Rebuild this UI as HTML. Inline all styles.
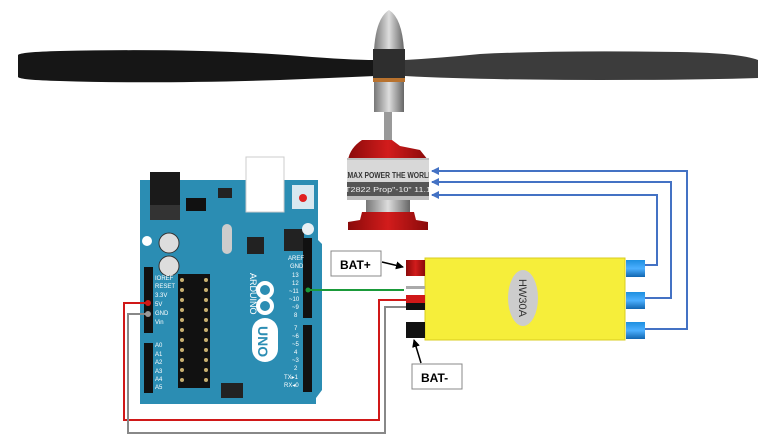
<!DOCTYPE html>
<html><head><meta charset="utf-8"><style>
html,body{margin:0;padding:0;background:#fff;}
svg{display:block;}
text{font-family:"Liberation Sans",sans-serif;}
</style></head><body>
<svg width="770" height="444" viewBox="0 0 770 444" xmlns="http://www.w3.org/2000/svg">
<defs>
<linearGradient id="g1" x1="0" x2="1"><stop offset="0" stop-color="#777"/><stop offset="0.5" stop-color="#ddd"/><stop offset="1" stop-color="#666"/></linearGradient>
<linearGradient id="gr" x1="0" x2="1"><stop offset="0" stop-color="#8a0a0a"/><stop offset="0.5" stop-color="#d21c1c"/><stop offset="1" stop-color="#8a0a0a"/></linearGradient>
<linearGradient id="gb" x1="0" x2="0" y1="0" y2="1"><stop offset="0" stop-color="#1d8fe0"/><stop offset="0.5" stop-color="#4cb0ff"/><stop offset="1" stop-color="#1166b0"/></linearGradient>
<marker id="ar" markerWidth="8" markerHeight="8" refX="7" refY="4" orient="auto" markerUnits="userSpaceOnUse"><path d="M0,0 L8,4 L0,8 Z" fill="#4472c4"/></marker>
<marker id="ak" markerWidth="8" markerHeight="8" refX="7" refY="4" orient="auto" markerUnits="userSpaceOnUse"><path d="M0,0 L8,4 L0,8 Z" fill="#000"/></marker>
<clipPath id="mc"><rect x="347" y="158" width="82" height="42"/></clipPath>
</defs>
<!-- propeller -->
<path d="M18,55 Q20,52 60,51 Q200,48 300,56 Q350,60 375,60 L375,76 Q330,78 280,80 Q150,84 60,81 Q20,80 18,77 Z" fill="#161616"/>
<path d="M405,60 Q440,58 480,54 Q560,50 680,52 Q740,53 758,60 L758,78 Q700,80 600,80 Q480,80 405,76 Z" fill="#3c3c3c"/>
<!-- spinner/hub -->
<path d="M374,50 Q376,18 389,10 Q402,18 404,50 Z" fill="url(#g1)"/>
<rect x="373" y="49" width="32" height="30" fill="#2e2e2e"/>
<rect x="373" y="78" width="32" height="4" fill="#b8722e"/>
<rect x="374" y="82" width="30" height="30" fill="url(#g1)"/>
<rect x="384" y="112" width="8" height="28" fill="#999"/>
<!-- motor -->
<path d="M362,140 L392,140 L400,146 L420,150 L428,160 L348,160 Q350,148 362,140 Z" fill="url(#gr)"/>
<g clip-path="url(#mc)">
<rect x="347" y="158" width="82" height="42" fill="#bdbdbd"/>
<rect x="347" y="160" width="82" height="22" fill="#d8d8d8"/>
<rect x="347" y="182" width="82" height="14" fill="#555"/>
<text x="343" y="178" font-size="8" font-weight="bold" fill="#333" textLength="90" lengthAdjust="spacingAndGlyphs">EMAX POWER THE WORLD</text>
<text x="345" y="192" font-size="7" fill="#eee" textLength="86" lengthAdjust="spacingAndGlyphs">T2822   Prop"-10"   11.1</text>
</g>
<rect x="366" y="200" width="44" height="14" fill="url(#g1)"/>
<path d="M362,212 L414,212 L416,220 L428,222 L428,230 L348,230 L348,222 L360,220 Z" fill="url(#gr)"/>
<!-- blue wires -->
<g fill="none" stroke="#4472c4" stroke-width="2">
<path d="M645,329 L687,329 L687,171 L432,171" marker-end="url(#ar)"/>
<path d="M645,298 L671,298 L671,182 L432,182" marker-end="url(#ar)"/>
<path d="M645,265 L657,265 L657,195 L432,195" marker-end="url(#ar)"/>
</g>
<!-- ESC -->
<rect x="425" y="258" width="200" height="82" fill="#f6ee3a" stroke="#d8cc20"/>
<ellipse cx="523" cy="298" rx="15" ry="28" fill="#ccc"/>
<text x="0" y="0" font-size="11" fill="#333" transform="translate(519,298) rotate(90)" text-anchor="middle">HW30A</text>
<rect x="406" y="260" width="19" height="16" fill="url(#gr)"/>
<rect x="406" y="286" width="19" height="3" fill="#aaa"/>
<rect x="406" y="295" width="19" height="8" fill="#d01818"/>
<rect x="406" y="303" width="19" height="7" fill="#111"/>
<rect x="406" y="322" width="19" height="16" fill="#111"/>
<rect x="626" y="260" width="19" height="17" fill="url(#gb)"/>
<rect x="626" y="292" width="19" height="17" fill="url(#gb)"/>
<rect x="626" y="322" width="19" height="17" fill="url(#gb)"/>
<!-- labels -->
<rect x="331" y="251" width="50" height="25" fill="#fff" stroke="#888"/>
<text x="340" y="269" font-size="12" font-weight="bold">BAT+</text>
<line x1="382" y1="262" x2="403" y2="267" stroke="#000" stroke-width="1.5" marker-end="url(#ak)"/>
<rect x="412" y="364" width="50" height="25" fill="#fff" stroke="#888"/>
<text x="421" y="382" font-size="12" font-weight="bold">BAT-</text>
<line x1="421" y1="363" x2="414" y2="340" stroke="#000" stroke-width="1.5" marker-end="url(#ak)"/>
<!-- arduino board -->
<path d="M140,180 L318,180 L318,240 L322,244 L322,390 L316,398 L316,404 L140,404 Z" fill="#2b8db3"/>
<rect x="246" y="157" width="38" height="55" fill="#fff" stroke="#ccc"/>
<rect x="150" y="172" width="30" height="48" fill="#1a1a1a"/>
<rect x="150" y="205" width="30" height="15" fill="#333"/>
<rect x="292" y="185" width="22" height="24" fill="#d8e8f0"/>
<circle cx="303" cy="198" r="4" fill="#e02020"/>
<rect x="186" y="198" width="20" height="13" fill="#111"/>
<rect x="218" y="188" width="14" height="10" fill="#222"/>
<circle cx="169" cy="243" r="10" fill="#ddd" stroke="#333"/>
<circle cx="169" cy="266" r="10" fill="#ddd" stroke="#333"/>
<rect x="222" y="224" width="10" height="30" rx="5" fill="#ccc"/>
<rect x="247" y="237" width="17" height="17" fill="#222"/>
<rect x="284" y="229" width="20" height="22" fill="#222"/>
<circle cx="308" cy="229" r="6" fill="#e8f0f4"/>
<circle cx="147" cy="241" r="5" fill="#fff"/>
<!-- headers -->
<rect x="144" y="267" width="9" height="66" fill="#111"/>
<rect x="144" y="343" width="9" height="50" fill="#111"/>
<rect x="303" y="238" width="9" height="80" fill="#111"/>
<rect x="303" y="325" width="9" height="67" fill="#111"/>
<rect x="221" y="383" width="22" height="15" fill="#222"/>
<!-- chip -->
<rect x="178" y="274" width="32" height="114" fill="#111"/>
<g fill="#c8b070">
<circle cx="182" cy="280" r="2"/><circle cx="206" cy="280" r="2"/>
<circle cx="182" cy="290" r="2"/><circle cx="206" cy="290" r="2"/>
<circle cx="182" cy="300" r="2"/><circle cx="206" cy="300" r="2"/>
<circle cx="182" cy="310" r="2"/><circle cx="206" cy="310" r="2"/>
<circle cx="182" cy="320" r="2"/><circle cx="206" cy="320" r="2"/>
<circle cx="182" cy="330" r="2"/><circle cx="206" cy="330" r="2"/>
<circle cx="182" cy="340" r="2"/><circle cx="206" cy="340" r="2"/>
<circle cx="182" cy="350" r="2"/><circle cx="206" cy="350" r="2"/>
<circle cx="182" cy="360" r="2"/><circle cx="206" cy="360" r="2"/>
<circle cx="182" cy="370" r="2"/><circle cx="206" cy="370" r="2"/>
<circle cx="182" cy="380" r="2"/><circle cx="206" cy="380" r="2"/>
</g>
<g font-size="6" fill="#fff">
<text x="155" y="280">IOREF</text><text x="155" y="288">RESET</text><text x="155" y="297">3.3V</text>
<text x="155" y="306">5V</text><text x="155" y="315">GND</text><text x="155" y="324">Vin</text>
<text x="155" y="347">A0</text><text x="155" y="356">A1</text><text x="155" y="364">A2</text>
<text x="155" y="373">A3</text><text x="155" y="381">A4</text><text x="155" y="389">A5</text>
<text x="288" y="260">AREF</text><text x="290" y="268">GND</text><text x="292" y="277">13</text>
<text x="292" y="285">12</text><text x="289" y="293">~11</text><text x="289" y="301">~10</text>
<text x="292" y="309">~9</text><text x="294" y="317">8</text>
<text x="294" y="330">7</text><text x="292" y="338">~6</text><text x="292" y="346">~5</text>
<text x="294" y="354">4</text><text x="292" y="362">~3</text><text x="294" y="370">2</text>
<text x="284" y="379">TX▸1</text><text x="284" y="387">RX◂0</text>
</g>
<text x="0" y="0" font-size="9" fill="#fff" transform="translate(250,273) rotate(90)">ARDUINO</text>
<g fill="none" stroke="#fff" stroke-width="4"><circle cx="265" cy="290" r="7"/><circle cx="265" cy="306" r="7"/></g>
<rect x="252" y="318" width="26" height="44" rx="13" fill="#fff"/>
<text x="0" y="0" font-size="14" fill="#2b8db3" font-weight="bold" transform="translate(258,326) rotate(90)">UNO</text>
<!-- wires -->
<path d="M148,303 L124,303 L124,420 L379,420 L379,300 L406,300" fill="none" stroke="#d01818" stroke-width="2"/>
<path d="M148,314 L128,314 L128,433 L385,433 L385,307 L406,307" fill="none" stroke="#888" stroke-width="2"/>
<circle cx="148" cy="303" r="3" fill="#d01818"/>
<circle cx="148" cy="314" r="3" fill="#999"/>
<path d="M308,290 L404,290" stroke="#1a9a3a" stroke-width="2"/>
<circle cx="308" cy="290" r="2.5" fill="#1a9a3a"/>
</svg>
</body></html>
